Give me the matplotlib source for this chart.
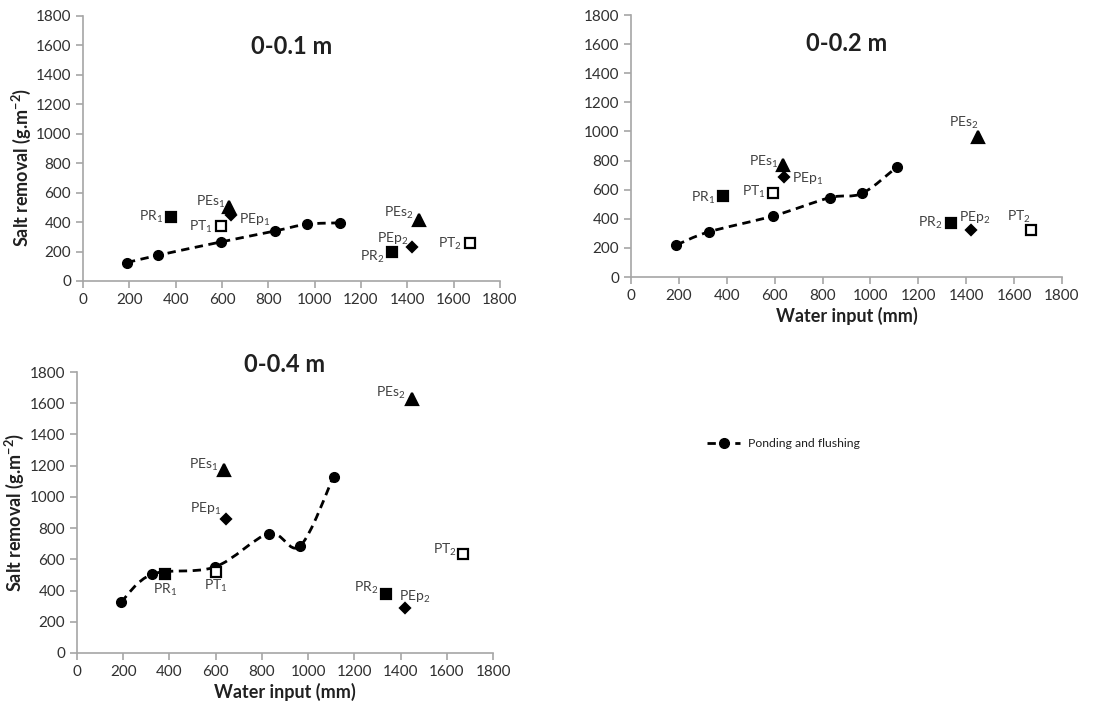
import matplotlib
matplotlib.use("Agg")
import matplotlib.pyplot as plt
from matplotlib.path import Path
from matplotlib.patches import PathPatch
from matplotlib.lines import Line2D

plt.rcParams['font.family'] = ['Lato', 'DejaVu Sans']

# ponding and flushing series
pf_x = [190, 325, 595, 830, 965, 1110]
pf_y = {
    '0-0.1 m': [125, 175, 265, 340, 385, 395],
    '0-0.2 m': [220, 310, 420, 545, 575, 755],
    '0-0.4 m': [325, 505, 550, 765, 685, 1130],
}

# other treatments
trt_names = ['PR1', 'PT1', 'PEs1', 'PEp1', 'PR2', 'PEp2', 'PEs2', 'PT2']
trt_x = {
    '0-0.1 m': [380, 595, 630, 640, 1335, 1420, 1450, 1670],
    '0-0.2 m': [385, 595, 635, 640, 1335, 1420, 1450, 1670],
    '0-0.4 m': [380, 600, 635, 645, 1335, 1420, 1450, 1670],
}
trt_y = {
    '0-0.1 m': [435, 370, 500, 445, 200, 230, 415, 255],
    '0-0.2 m': [560, 575, 770, 690, 370, 325, 960, 325],
    '0-0.4 m': [505, 520, 1175, 860, 380, 290, 1630, 635],
}

# marker style per treatment
trt_style = {
    'PR1': ('s', 'black'), 'PR2': ('s', 'black'),
    'PT1': ('s', 'white'), 'PT2': ('s', 'white'),
    'PEs1': ('^', 'black'), 'PEs2': ('^', 'black'),
    'PEp1': ('D', 'black'), 'PEp2': ('D', 'black'),
}

# label offsets (pixels) and alignment
lab_pos = {
    '0-0.1 m': [(-8, 0, 'right'), (-8, 0, 'right'), (-3, 6, 'right'), (8, -4, 'left'),
                (-8, -5, 'right'), (-4, 8, 'right'), (-5, 7, 'right'), (-8, 0, 'right')],
    '0-0.2 m': [(-8, -2, 'right'), (-8, 2, 'right'), (-5, 3, 'right'), (8, -2, 'left'),
                (-8, 0, 'right'), (-12, 12, 'left'), (0, 14, 'right'), (0, 13, 'right')],
    '0-0.4 m': [(0, -16, 'center'), (0, -14, 'center'), (-5, 5, 'right'), (-5, 10, 'right'),
                (-7, 6, 'right'), (-6, 11, 'left'), (-6, 6, 'right'), (-6, 4, 'right')],
}

ticks = [0, 200, 400, 600, 800, 1000, 1200, 1400, 1600, 1800]
grey = '#a6a6a6'
txt = '#404040'


def smooth_path(x, y):
    # Excel-like smoothed line through the points (Catmull-Rom as Bezier)
    pts = list(zip(x, y))
    verts = [pts[0]]
    codes = [Path.MOVETO]
    n = len(pts)
    for i in range(n - 1):
        p0 = pts[max(i - 1, 0)]
        p1 = pts[i]
        p2 = pts[i + 1]
        p3 = pts[min(i + 2, n - 1)]
        c1 = (p1[0] + (p2[0] - p0[0]) / 6, p1[1] + (p2[1] - p0[1]) / 6)
        c2 = (p2[0] - (p3[0] - p1[0]) / 6, p2[1] - (p3[1] - p1[1]) / 6)
        verts += [c1, c2, p2]
        codes += [Path.CURVE4] * 3
    return Path(verts, codes)


def sub(name):
    return name[:-1] + r'$_{\mathregular{' + name[-1] + '}}$'


fig = plt.figure(figsize=(11.02, 7.09), dpi=100)
axes = {
    '0-0.1 m': fig.add_axes([0.0753, 0.6037, 0.3784, 0.3738]),
    '0-0.2 m': fig.add_axes([0.5726, 0.6093, 0.3911, 0.3695]),
    '0-0.4 m': fig.add_axes([0.0699, 0.0790, 0.3775, 0.3963]),
}
title_pos = {'0-0.1 m': 0.883, '0-0.2 m': 0.893, '0-0.4 m': 1.025}

for key, ax in axes.items():
    ax.add_patch(PathPatch(smooth_path(pf_x, pf_y[key]), fill=False,
                           edgecolor='black', lw=2, linestyle=(0, (3, 2))))
    ax.plot(pf_x, pf_y[key], 'o', color='black', markersize=7, zorder=3)
    for i, name in enumerate(trt_names):
        m, fc = trt_style[name]
        ms = {'s': 7.5, '^': 8, 'D': 5.5}[m]
        ax.plot(trt_x[key][i], trt_y[key][i], m, markerfacecolor=fc,
                markeredgecolor='black', markeredgewidth=1.6, markersize=ms, zorder=3)
        dx, dy, ha = lab_pos[key][i]
        ax.annotate(sub(name), (trt_x[key][i], trt_y[key][i]), xytext=(dx, dy),
                    textcoords='offset pixels', ha=ha, va='center',
                    fontsize=10, color=txt)
    ax.set_xlim(0, 1800)
    ax.set_ylim(0, 1800)
    ax.set_xticks(ticks)
    ax.set_yticks(ticks)
    for s in ['top', 'right']:
        ax.spines[s].set_visible(False)
    for s in ['left', 'bottom']:
        ax.spines[s].set_color(grey)
        ax.spines[s].set_linewidth(1.2)
    ax.tick_params(colors=grey, labelcolor='#303030', labelsize=11, length=5, width=1.2)
    ax.text(0.5, title_pos[key], key, transform=ax.transAxes, ha='center', va='center',
            fontsize=17, fontweight='bold', color='#202020')

ylab = 'Salt removal (g.m$^{\\mathregular{-2}}$)'
axes['0-0.1 m'].set_ylabel(ylab, fontsize=13, fontweight='bold', color='#202020')
axes['0-0.1 m'].yaxis.set_label_coords(-0.12, 0.43)
axes['0-0.4 m'].set_ylabel(ylab, fontsize=13, fontweight='bold', color='#202020')
axes['0-0.4 m'].yaxis.set_label_coords(-0.123, 0.5)
axes['0-0.2 m'].set_xlabel('Water input (mm)', fontsize=13, fontweight='bold',
                           color='#202020', labelpad=3)
axes['0-0.4 m'].set_xlabel('Water input (mm)', fontsize=13, fontweight='bold',
                           color='#202020', labelpad=3)

handle = Line2D([], [], color='black', lw=2, linestyle=(0, (3, 2)), marker='o', markersize=7)
fig.legend([handle], ['Ponding and flushing'], loc='center left',
           bbox_to_anchor=(0.632, 0.374), frameon=False, fontsize=8.8,
           handlelength=2.7, handletextpad=0.6, labelcolor='#202020')

fig.savefig('out.png', dpi=100)
